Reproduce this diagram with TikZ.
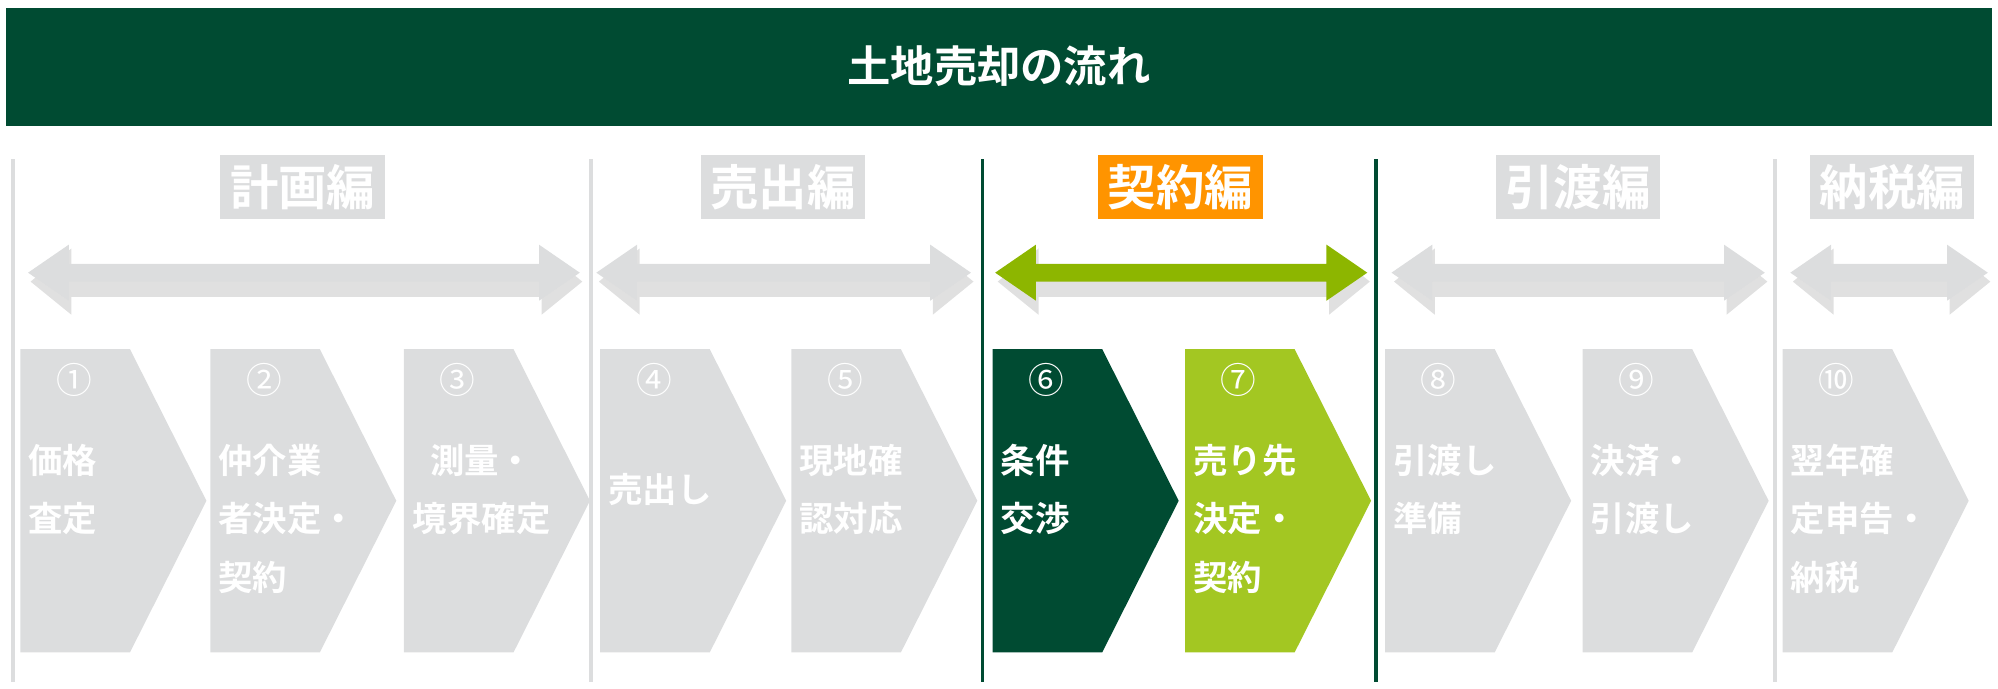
\documentclass[tikz,border=0pt]{standalone}
\usepackage{fontspec}
\setmainfont{Noto Sans CJK JP}[BoldFont={Noto Sans CJK JP Bold}]
\definecolor{dg}{HTML}{004B32}
\definecolor{lg}{HTML}{A3C722}
\definecolor{ag}{HTML}{8DB600}
\definecolor{gr}{HTML}{DCDDDE}
\definecolor{og}{HTML}{FF9400}
\newcommand\dblarrow[3]{%
 \fill[black,opacity=0.12] (#1+2,221) -- (#1+34,195) -- (#1+34,209) -- (#2-30,209) -- (#2-30,195) -- (#2+2,221) -- (#2-30,247) -- (#2-30,233) -- (#1+34,233) -- (#1+34,247) -- cycle;
 \fill[#3] (#1,214) -- (#1+32,192) -- (#1+32,207) -- (#2-32,207) -- (#2-32,192) -- (#2,214) -- (#2-32,236) -- (#2-32,221) -- (#1+32,221) -- (#1+32,236) -- cycle;}
\newcommand\chev[3]{\fill[#2] (#1,274) -- (#1+86,274) -- (#1+146,393) -- (#1+86,512) -- (#1,512) -- cycle;
 \node[numtxt] (n#3) at (#1+14,298) {};}
\tikzset{numtxt/.style={anchor=west,text=white,font=\fontsize{14}{14}\selectfont},
 steptxt/.style={anchor=north west,text=white,font=\bfseries\fontsize{13.5}{23}\selectfont,align=left,inner sep=0},
 secbox/.style={fill=gr,text=white,font=\bfseries\fontsize{19}{19}\selectfont,minimum width=64.5pt,minimum height=25pt,inner sep=0}}
\begin{document}
\begin{tikzpicture}[x=0.5pt,y=-0.5pt]
\useasboundingbox (0,0) rectangle (1568,540);
\fill[dg] (5,6) rectangle (1563,99);
\node[text=white,font=\bfseries\fontsize{17}{17}\selectfont] (title) at (784,52) {土地売却の流れ};
\foreach \x/\c in {10/gr,464/gr,771/dg,1080/dg,1393/gr}{\draw[\c,line width=1.5pt] (\x,125) -- (\x,535);}
\node[secbox] (s1) at (237.5,147) {計画編};
\node[secbox] (s2) at (614.5,147) {売出編};
\node[secbox,fill=og] (s3) at (926.5,147) {契約編};
\node[secbox] (s4) at (1238.5,147) {引渡編};
\node[secbox] (s5) at (1485,147) {納税編};
\dblarrow{22}{455}{gr}
\dblarrow{468}{762}{gr}
\dblarrow{781}{1073}{ag}
\dblarrow{1092}{1385}{gr}
\dblarrow{1405}{1560}{gr}
\foreach \x/\c/\i in {16/gr/1,165/gr/2,317/gr/3,471/gr/4,621/gr/5,779/dg/6,930/lg/7,1087/gr/8,1242/gr/9,1399/gr/10}{\chev{\x}{\c}{\i}}
\node[numtxt] at (n1) {①}; \node[numtxt] at (n2) {②}; \node[numtxt] at (n3) {③};
\node[numtxt] at (n4) {④}; \node[numtxt] at (n5) {⑤}; \node[numtxt] at (n6) {⑥};
\node[numtxt] at (n7) {⑦}; \node[numtxt] at (n8) {⑧}; \node[numtxt] at (n9) {⑨};
\node[numtxt] at (n10) {⑩};
\node[steptxt] (t1) at (22,348) {価格\\査定};
\node[steptxt] (t2) at (171,348) {仲介業\\者決定・\\契約};
\node[steptxt,align=center,anchor=north] (t3) at (378,348) {測量・\\境界確定};
\node[steptxt] (t4) at (477,371) {売出し};
\node[steptxt] (t5) at (627,348) {現地確\\認対応};
\node[steptxt] (t6) at (785,348) {条件\\交渉};
\node[steptxt] (t7) at (936,348) {売り先\\決定・\\契約};
\node[steptxt] (t8) at (1093,348) {引渡し\\準備};
\node[steptxt] (t9) at (1248,348) {決済・\\引渡し};
\node[steptxt] (t10) at (1405,348) {翌年確\\定申告・\\納税};
\end{tikzpicture}
\end{document}
